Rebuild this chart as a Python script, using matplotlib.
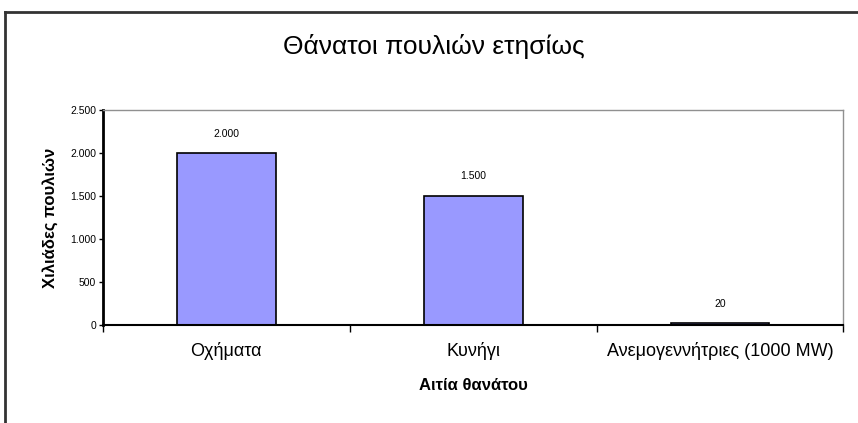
import numpy as np
import matplotlib.pyplot as plt
from matplotlib.lines import Line2D
from matplotlib.ticker import FuncFormatter

plt.rcParams['font.family'] = ['Liberation Sans', 'DejaVu Sans']

# data
categories = ["Οχήματα", "Κυνήγι", "Ανεμογεννήτριες (1000 MW)"]
deaths = [2000, 1500, 20]
title = "Θάνατοι πουλιών ετησίως"
ylabel = "Χιλιάδες πουλιών"
xlabel = "Αιτία θανάτου"


def dotted(v, pos=None):
    return "{:,.0f}".format(v).replace(",", ".")


fig = plt.figure(figsize=(8.58, 4.23), dpi=100)
ax = fig.add_axes((0.120, 0.232, 0.863, 0.508))

x = np.arange(len(categories))
bars = ax.bar(x, deaths, width=0.4, color="#9999FF", edgecolor="black", linewidth=1.2)

for b, v in zip(bars, deaths):
    ax.annotate(dotted(v), (b.get_x() + b.get_width() / 2, v), xytext=(0, 14),
                textcoords="offset points", ha="center", va="center", fontsize=7.5)

ax.set_xlim(-0.5, 2.5)
ax.set_ylim(0, 2500)
ax.set_yticks(np.arange(0, 2501, 500))
ax.yaxis.set_major_formatter(FuncFormatter(dotted))
ax.tick_params(axis="y", labelsize=7.5, length=3, width=1, pad=2)

ax.set_xticks(x)
ax.set_xticklabels(categories, fontsize=13)
ax.set_xticks([-0.5, 0.5, 1.5, 2.5], minor=True)
ax.tick_params(axis="x", which="major", length=0, pad=12)
ax.tick_params(axis="x", which="minor", length=5, width=1)

ax.set_xlabel(xlabel, fontsize=12, fontweight="bold", va="center")
ax.xaxis.set_label_coords(0.5, -0.284)
ax.set_ylabel(ylabel, fontsize=12, fontweight="bold", va="center")
ax.yaxis.set_label_coords(-0.072, 0.5)

ax.spines["left"].set_linewidth(2)
ax.spines["bottom"].set_linewidth(1.5)
for s in ("top", "right"):
    ax.spines[s].set_color("#909090")
    ax.spines[s].set_linewidth(1)

fig.text(0.506, 0.891, title, ha="center", va="center", fontsize=19)

# outer frame (top and left edges)
fig.add_artist(Line2D([0.006, 1.0], [0.971, 0.971], transform=fig.transFigure, color="#333333", lw=2))
fig.add_artist(Line2D([0.006, 0.006], [0.0, 0.971], transform=fig.transFigure, color="#333333", lw=2))

fig.savefig("out.png", dpi=100)
